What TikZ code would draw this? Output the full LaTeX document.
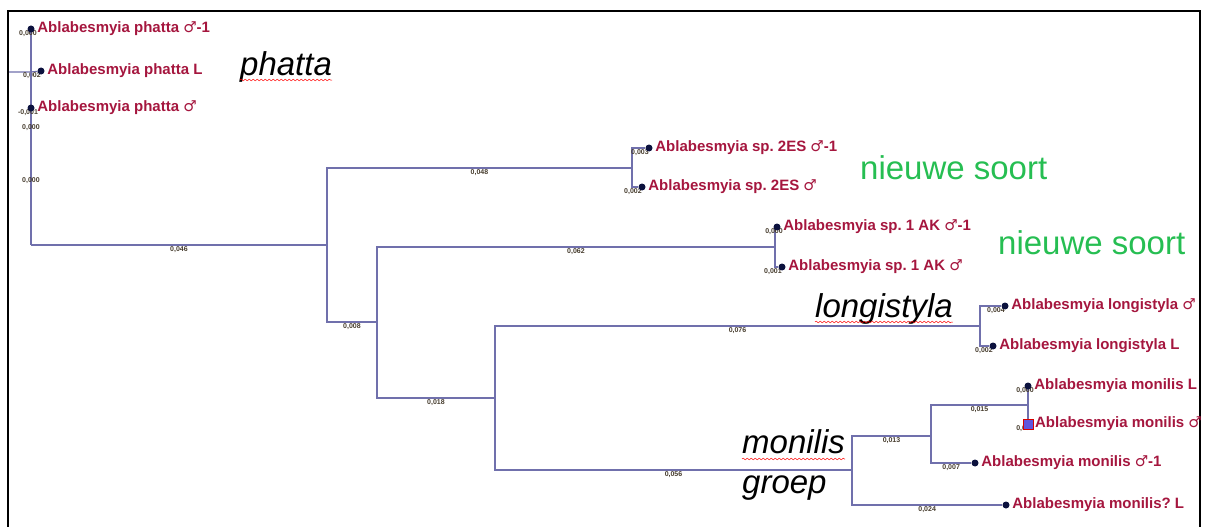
\documentclass[tikz,border=0pt]{standalone}
\usepackage{fontspec}
\setmainfont{Liberation Sans}
\newfontfamily\symfont{DejaVu Sans}
\newcommand{\mars}{{\symfont ♂}}
\frenchspacing
\usetikzlibrary{positioning, decorations.pathmorphing, backgrounds}
\definecolor{taxonred}{RGB}{165,22,62}
\definecolor{branchblue}{RGB}{112,112,172}
\definecolor{dotblue}{RGB}{12,18,62}
\definecolor{newgreen}{RGB}{38,190,82}
\definecolor{lenbrown}{RGB}{70,60,45}
\definecolor{markpurple}{RGB}{96,86,222}

\begin{document}
\begin{tikzpicture}[
        x=1pt, y=-1pt,
        font=\fontsize{15}{18}\selectfont\bfseries,
        tip/.style={circle, fill=dotblue, inner sep=0pt, minimum size=7pt},
        tipsq/.style={rectangle, fill=markpurple, draw=red!85!black, line width=0.8pt, inner sep=0pt, minimum size=10pt},
        taxon/.style={text=taxonred, inner sep=1pt},
        branch/.style={draw=branchblue, line width=1.2pt},
        blen/.style={font=\fontsize{7}{8}\selectfont\bfseries, text=lenbrown, inner sep=1pt},
        tiplen/.style={blen, pos=1, anchor=north east, xshift=5pt},
        zerolen/.style={blen, pos=1, anchor=north, xshift=-3pt},
        group/.style={font=\fontsize{33}{36}\selectfont\itshape, inner sep=0pt, anchor=base west},
        newsp/.style={font=\fontsize{33}{36}\selectfont, text=newgreen, inner sep=0pt, anchor=base west},
        squiggle/.style={draw=red, line width=0.5pt, decorate, decoration={snake, amplitude=0.8pt, segment length=4pt}},
        frame/.style={draw=black, line width=1.3pt},
    ]
    \useasboundingbox (0,0) rectangle (1207,527);
    \draw[frame] (8,527) -- (8,11) -- (1200,11) -- (1200,527);

    % Inner nodes of the tree
    \coordinate (root) at (8,72);
    \coordinate (n0) at (31,72);
    \coordinate (n1) at (31,245);
    \coordinate (n2) at (327,245);
    \coordinate (n3) at (632,168);
    \coordinate (n4) at (377,322);
    \coordinate (n5) at (775,247);
    \coordinate (n6) at (495,398);
    \coordinate (n7) at (980,326);
    \coordinate (n8) at (852,470);
    \coordinate (n9) at (931,436);
    \coordinate (n10) at (1028,405);

    % Tips
    \node[tip] (p1) at (31,29) {};
    \node[tip] (p2) at (41,71) {};
    \node[tip] (p3) at (31,108) {};
    \node[tip] (s1) at (649,148) {};
    \node[tip] (s2) at (642,187) {};
    \node[tip] (a1) at (777,227) {};
    \node[tip] (a2) at (782,267) {};
    \node[tip] (l1) at (1005,306) {};
    \node[tip] (l2) at (993,346) {};
    \node[tip] (m1) at (1028,386) {};
    \node[tipsq] (m2) at (1028,424) {};
    \node[tip] (m3) at (975,463) {};
    \node[tip] (m4) at (1006,505) {};

    % Taxon names
    \node[taxon, right=1.5pt of p1] (tp1) {Ablabesmyia phatta \mars-1};
    \node[taxon, right=1.5pt of p2] (tp2) {Ablabesmyia phatta L};
    \node[taxon, right=1.5pt of p3] (tp3) {Ablabesmyia phatta \mars};
    \node[taxon, right=1.5pt of s1] (ts1) {Ablabesmyia sp. 2ES \mars-1};
    \node[taxon, right=1.5pt of s2] (ts2) {Ablabesmyia sp. 2ES \mars};
    \node[taxon, right=1.5pt of a1] (ta1) {Ablabesmyia sp. 1 AK \mars-1};
    \node[taxon, right=1.5pt of a2] (ta2) {Ablabesmyia sp. 1 AK \mars};
    \node[taxon, right=1.5pt of l1] (tl1) {Ablabesmyia longistyla \mars};
    \node[taxon, right=1.5pt of l2] (tl2) {Ablabesmyia longistyla L};
    \node[taxon, right=1.5pt of m1] (tm1) {Ablabesmyia monilis L};
    \node[taxon, right=0.5pt of m2] (tm2) {Ablabesmyia monilis \mars};
    \node[taxon, right=1.5pt of m3] (tm3) {Ablabesmyia monilis \mars-1};
    \node[taxon, right=1.5pt of m4] (tm4) {Ablabesmyia monilis? L};

    % Group notes
    \node[group] (gphatta) at (240,75) {phatta};
    \node[newsp] (nieuw1) at (860,179) {nieuwe soort};
    \node[newsp] (nieuw2) at (998,254) {nieuwe soort};
    \node[group] (glongi) at (815,317) {longistyla};
    \node[group] (gmonilis) at (742,453) {monilis};
    \node[group] (ggroep) at (742,493) {groep};
    \draw[squiggle] ([yshift=-5pt]gphatta.base west) -- ([yshift=-5pt]gphatta.base east);
    \draw[squiggle] ([yshift=-5pt]glongi.base west) -- ([yshift=-5pt]glongi.base east);
    \draw[squiggle] ([yshift=-6pt]gmonilis.base west) -- ([yshift=-6pt]gmonilis.base east);

    % Branches
    \begin{scope}[on background layer]
    \draw[branch] (root) -- (n0) -- node[tiplen]{0,002} (p2);
    \draw[branch] (p1.center) -- node[zerolen, pos=0]{0,000} (p3.center)
        -- node[zerolen, pos=0]{-0,001} node[blen, pos=0.14]{0,000} node[blen, pos=0.53]{0,000} (n1);
    \draw[branch] (n1) -- node[blen, below]{0,046} (n2);
    \draw[branch] (n2) |- node[blen, below, pos=0.75]{0,048} (n3);
    \draw[branch] (n3) |- node[tiplen]{0,003} (s1);
    \draw[branch] (n3) |- node[tiplen]{0,002} (s2);
    \draw[branch] (n2) |- node[blen, below, pos=0.75]{0,008} (n4);
    \draw[branch] (n4) |- node[blen, below, pos=0.75]{0,062} (n5);
    \draw[branch] (n5) |- node[zerolen]{0,000} (a1.center);
    \draw[branch] (n5) |- node[tiplen]{0,001} (a2);
    \draw[branch] (n4) |- node[blen, below, pos=0.75]{0,018} (n6);
    \draw[branch] (n6) |- node[blen, below, pos=0.75]{0,076} (n7);
    \draw[branch] (n7) |- node[tiplen]{0,004} (l1);
    \draw[branch] (n7) |- node[tiplen]{0,002} (l2);
    \draw[branch] (n6) |- node[blen, below, pos=0.75]{0,056} (n8);
    \draw[branch] (n8) |- node[blen, below, pos=0.75]{0,013} (n9);
    \draw[branch] (n8) |- node[blen, below, pos=0.75]{0,024} (m4);
    \draw[branch] (n9) |- node[blen, below, pos=0.75]{0,015} (n10);
    \draw[branch] (n9) |- node[blen, below, pos=0.75]{0,007} (m3);
    \draw[branch] (n10) -- node[zerolen]{0,000} (m1.center);
    \draw[branch] (n10) -- node[zerolen]{0,000} (m2.center);
    \end{scope}

\end{tikzpicture}
\end{document}
